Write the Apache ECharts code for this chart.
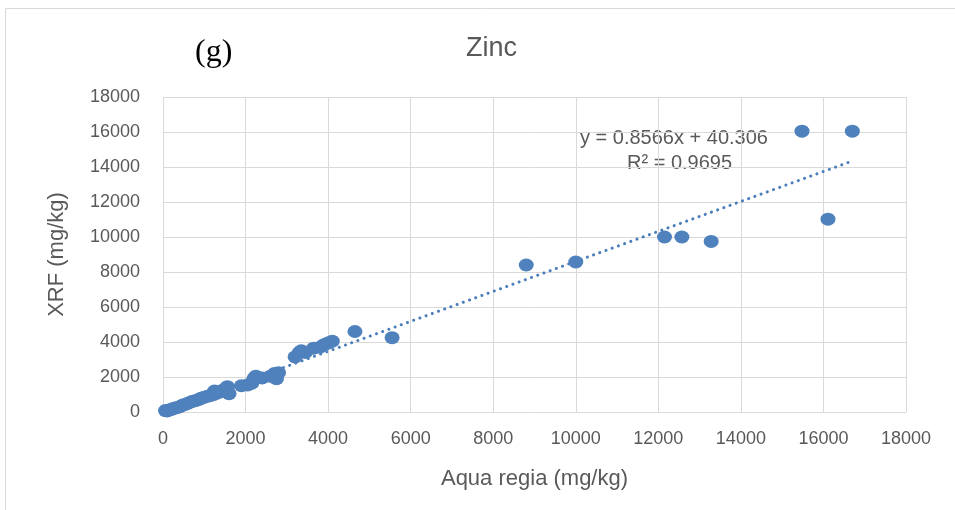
<!DOCTYPE html>
<html><head><meta charset="utf-8">
<script src="https://cdn.jsdelivr.net/npm/echarts@6/dist/echarts.min.js"></script>
<style>html,body{margin:0;padding:0;background:#fff}#c{width:955px;height:510px}</style>
</head><body><div id="c"></div>
<script>
// Aqua regia (x) values, mg/kg
const aquaRegia = [60,100,150,200,250,300,350,420,480,550,620,700,780,850,920,1000,1080,1150,1230,1300,1380,1450,1520,1560,1600,1250,
  1900,2050,2150,2200,2250,2400,2600,2700,2750,2800,
  3200,3300,3350,3450,3650,3800,3900,4000,4100,4650,5550,
  8800,10000,12150,12570,13280,15480,16110,16700];
// XRF (y) values, mg/kg
const xrf = [80,60,120,150,200,230,260,320,400,450,520,600,650,700,780,850,900,950,1000,1080,1150,1250,1350,1450,1050,1200,
  1500,1550,1650,1900,2050,1950,2050,2200,1900,2250,
  3150,3400,3500,3400,3650,3700,3850,3950,4050,4600,4250,
  8400,8570,10000,10000,9750,16050,11020,16050];
const slope = 0.8566, intercept = 40.306, r2 = 0.9695;

const pts = aquaRegia.map((x,i)=>[x,xrf[i]]);
const xMin = Math.min(...aquaRegia), xMax = Math.max(...aquaRegia);
const trend = [[xMin, slope*xMin+intercept],[xMax, slope*xMax+intercept]];
const gray = '#595959';
const font = '"Liberation Sans",sans-serif';
const chart = echarts.init(document.getElementById('c'));
chart.setOption({
  animation:false,
  graphic:[
    {type:'rect',shape:{x:5.5,y:8.5,width:1000,height:600},style:{fill:'none',stroke:'#d9d9d9',lineWidth:1}},
    {type:'text',left:195,top:37,style:{text:'(g)',font:'32px "Liberation Serif",serif',fill:'#000'}},
    {type:'text',left:466,top:35,style:{text:'Zinc',font:'27px '+font,fill:gray}},
    {type:'text',left:580,top:128,style:{text:'y = 0.8566x + 40.306',font:'20px '+font,fill:gray}},
    {type:'text',left:627,top:153,style:{text:'R² = '+r2,font:'20px '+font,fill:gray}}
  ],
  grid:{left:163,right:49,top:97,bottom:98,containLabel:false},
  xAxis:{type:'value',min:0,max:18000,interval:2000,
    name:'Aqua regia (mg/kg)',nameLocation:'middle',nameGap:56,
    nameTextStyle:{color:gray,fontSize:22,fontFamily:font},
    axisLine:{show:true,lineStyle:{color:'#d9d9d9'}},axisTick:{show:false},
    axisLabel:{color:gray,fontSize:18,fontFamily:font,margin:18,formatter:v=>String(v)},
    splitLine:{show:true,lineStyle:{color:'#d9d9d9'}}},
  yAxis:{type:'value',min:0,max:18000,interval:2000,
    name:'XRF (mg/kg)',nameLocation:'middle',nameGap:95,
    nameTextStyle:{color:gray,fontSize:22,fontFamily:font},
    axisLine:{show:false},axisTick:{show:false},
    axisLabel:{color:gray,fontSize:18,fontFamily:font,margin:23,formatter:v=>String(v)},
    splitLine:{show:true,lineStyle:{color:'#d9d9d9'}}},
  series:[
    {type:'scatter',data:pts,symbol:'circle',symbolSize:[15,13],itemStyle:{color:'#4f81bd',opacity:1},z:3},
    {type:'line',data:trend,symbol:'none',lineStyle:{color:'#4a7ebb',width:3,type:[0.1,6.5],cap:'round'},z:2}
  ]
});
</script></body></html>
